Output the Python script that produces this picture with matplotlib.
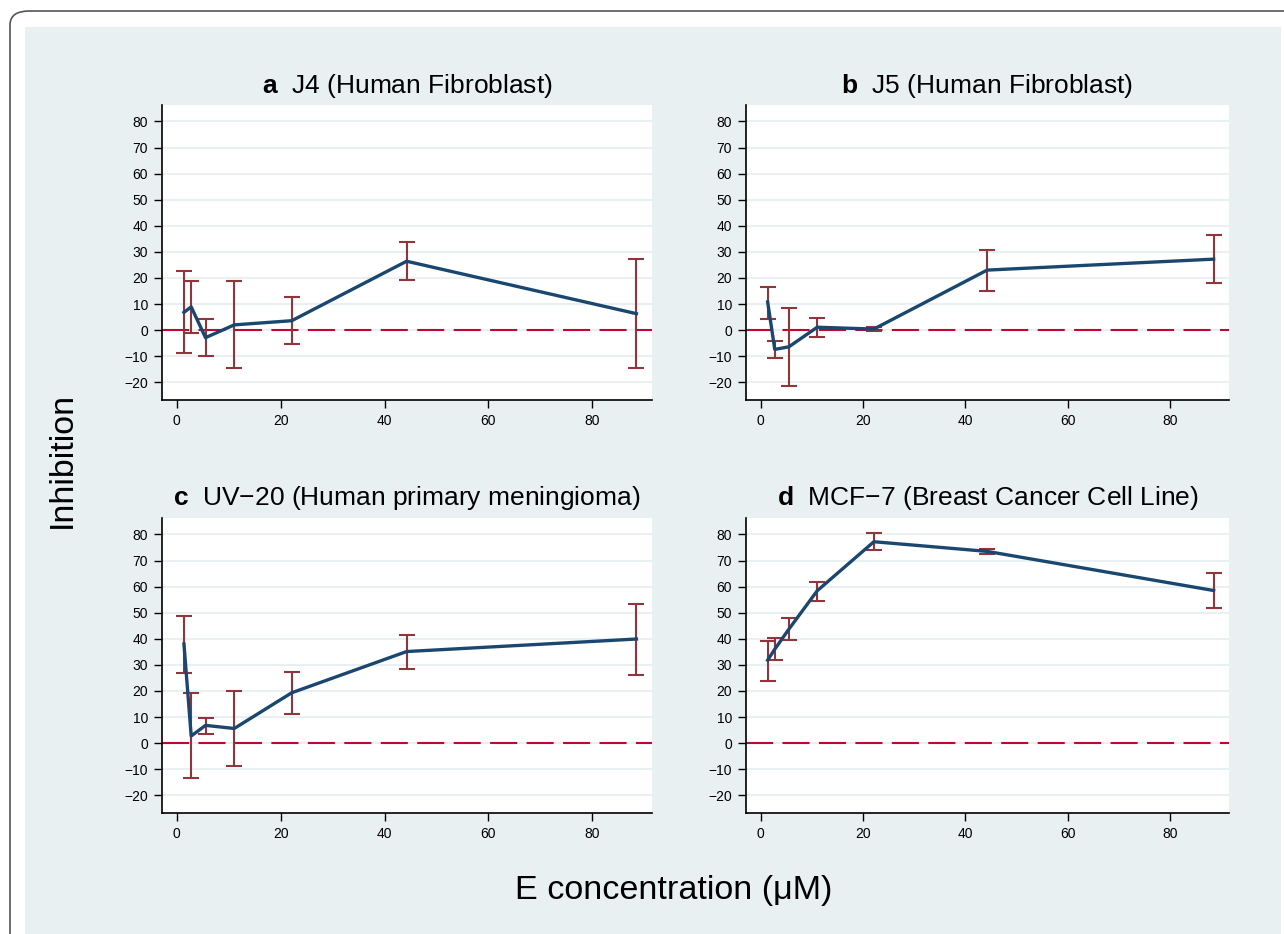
import matplotlib
matplotlib.use("Agg")
import matplotlib.pyplot as plt
from matplotlib.patches import FancyBboxPatch, Rectangle
import numpy as np

plt.rcParams["font.family"] = ["Liberation Sans", "DejaVu Sans"]
plt.rcParams["mathtext.fontset"] = "custom"
plt.rcParams["mathtext.rm"] = "Liberation Sans"
plt.rcParams["mathtext.bf"] = "Liberation Sans:bold"

# concentrations (uM)
conc = [1.38, 2.77, 5.53, 11.06, 22.13, 44.25, 88.5]

a_mean = [6.8, 8.9, -2.9, 2.0, 3.6, 26.4, 6.3]
a_low = [-8.8, -1.1, -10.1, -14.7, -5.4, 19.2, -14.7]
a_high = [22.6, 18.8, 4.2, 18.8, 12.5, 33.6, 27.2]

b_mean = [10.8, -7.4, -6.4, 1.1, 0.4, 23.0, 27.2]
b_low = [4.2, -10.6, -21.3, -2.7, -0.3, 15.1, 18.0]
b_high = [16.7, -4.2, 8.4, 4.8, 1.1, 30.6, 36.4]

c_mean = [38.0, 2.7, 6.8, 5.6, 19.3, 35.1, 39.9]
c_low = [27.0, -13.4, 3.5, -8.6, 11.0, 28.5, 26.2]
c_high = [48.6, 19.3, 9.8, 19.8, 27.2, 41.4, 53.4]

d_mean = [31.8, 36.0, 43.7, 58.4, 77.2, 73.5, 58.5]
d_low = [23.9, 31.9, 39.7, 54.6, 73.9, 72.5, 51.8]
d_high = [39.0, 40.3, 47.8, 61.7, 80.4, 74.4, 65.4]

letters = ["a", "b", "c", "d"]
titles = ["J4 (Human Fibroblast)", "J5 (Human Fibroblast)",
          "UV\u221220 (Human primary meningioma)", "MCF\u22127 (Breast Cancer Cell Line)"]
yticks = [-20, -10, 0, 10, 20, 30, 40, 50, 60, 70, 80]
xticks = [0, 20, 40, 60, 80]

W, H = 1284, 934
fig = plt.figure(figsize=(W / 100, H / 100), dpi=100)
fig.patch.set_facecolor("white")

# outer rounded frame and shaded panel
frame = FancyBboxPatch((10 / W, 1 - 960 / H), 1300 / W, 949 / H,
                       boxstyle="round,pad=0,rounding_size=0.015",
                       transform=fig.transFigure, facecolor="white",
                       edgecolor="#555555", linewidth=1.2, zorder=-2)
fig.patches.append(frame)
fig.patches.append(Rectangle((25 / W, 0), 1256 / W, 1 - 27 / H,
                             transform=fig.transFigure, facecolor="#e8f0f2",
                             edgecolor="none", zorder=-1))

boxes = [(162, 105, 652, 400), (746, 105, 1229, 400),
         (162, 518, 652, 813), (746, 518, 1229, 813)]
series = [(a_mean, a_low, a_high), (b_mean, b_low, b_high),
          (c_mean, c_low, c_high), (d_mean, d_low, d_high)]

for i in range(4):
    x0, y0, x1, y1 = boxes[i]
    ax = fig.add_axes([x0 / W, 1 - y1 / H, (x1 - x0) / W, (y1 - y0) / H])
    ax.set_facecolor("white")
    mean, low, high = [np.array(s) for s in series[i]]

    for yv in yticks:
        ax.axhline(yv, color="#e8f0f2", lw=1.5, zorder=1)
    ax.axhline(0, color="#c10534", lw=1.5, dashes=(13, 4.5), zorder=2)
    ax.errorbar(conc, mean, yerr=[mean - low, high - mean], fmt="none",
                ecolor="#90353b", elinewidth=1.5, capsize=5.5, capthick=1.5,
                zorder=3)
    ax.plot(conc, mean, color="#1a476f", lw=2.4, zorder=4)

    ax.set_xlim(-2.85, 91.5)
    ax.set_ylim(-26.8, 86.3)
    ax.set_xticks(xticks)
    ax.set_yticks(yticks)
    ax.tick_params(axis="both", labelsize=10, length=6, width=1, pad=4,
                   color="black")
    for side in ["top", "right"]:
        ax.spines[side].set_visible(False)
    for side in ["left", "bottom"]:
        ax.spines[side].set_linewidth(1.2)
    ax.set_title(r"$\mathbf{%s}$  %s" % (letters[i], titles[i]),
                 fontsize=19, pad=9)

fig.text(62 / W, 1 - 460 / H, "Inhibition", rotation=90, ha="center",
         va="center", fontsize=24.5)
fig.text(674 / W, 1 - 890 / H, "E concentration (\u03bcM)", ha="center",
         va="center", fontsize=24.6)

fig.savefig("out.png", dpi=100)
